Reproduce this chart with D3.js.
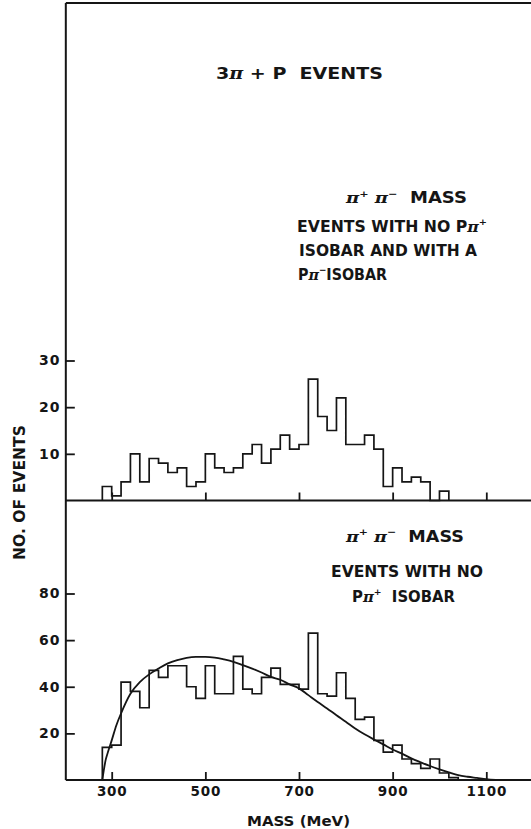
<!DOCTYPE html>
<html>
<head>
<meta charset="utf-8">
<script src="https://cdn.jsdelivr.net/npm/d3@7/dist/d3.min.js"></script>
<style>
  body { margin: 0; background: #fff; }
  svg { display: block; background: #fff; }
  text { font-family: "DejaVu Sans", "Liberation Sans", sans-serif; font-weight: bold; fill: #151515; white-space: pre; }
</style>
</head>
<body>
<svg id="chart" width="531" height="829"></svg>
<script>
// ---- data: pi+ pi- invariant mass histograms, 20 MeV bins starting at 280 MeV ----
const binStart = 280;
const binWidth = 20;

// upper panel: events with no P-pi+ isobar and with a P-pi- isobar
const upperCounts = [3, 1, 4, 10, 4, 9, 8, 6, 7, 3, 4, 10, 7, 6, 7, 10, 12, 8, 11, 14,
                     11, 12, 26, 18, 15, 22, 12, 12, 14, 11, 3, 7, 4, 5, 4, 0, 2];

// lower panel: events with no P-pi+ isobar
const lowerCounts = [14, 15, 42, 38, 31, 47, 44, 49, 49, 40, 35, 49, 37, 37, 53, 39, 37, 44, 48, 41,
                     41, 39, 63, 37, 36, 46, 35, 26, 27, 17, 12, 15, 9, 7, 5, 9, 3, 1];

// phase-space curve drawn over the lower histogram
const curveMass  = [280, 283, 287, 292, 300, 310, 320, 340, 360, 380, 400, 420, 440, 460, 480, 500,
                    520, 540, 560, 580, 600, 620, 640, 660, 680, 700, 720, 740, 760, 780, 800, 820,
                    840, 860, 880, 900, 920, 940, 960, 980, 1000, 1020, 1040, 1060, 1080, 1100, 1120];
const curveValue = [0, 4, 8.5, 12, 17, 23.5, 28.6, 37, 42, 45.3, 47.8, 50, 51.4, 52.4, 52.8, 52.8,
                    52.5, 51.7, 50.7, 49.3, 47.8, 46.1, 44.2, 43, 41, 39.3, 36.4, 33.5, 30.7, 27.8, 25, 22.1,
                    19.6, 17.4, 15.3, 13.1, 11.3, 9.3, 7.6, 6, 4.6, 3.3, 2.1, 1.4, 0.9, 0.4, 0];

// axis ticks
const massTicks  = [300, 500, 700, 900, 1100];
const upperTicks = [10, 20, 30];
const lowerTicks = [20, 40, 60, 80];
const massRange  = [202, 1200];

// ---- scales ----
const svg = d3.select("#chart");
const x    = d3.scaleLinear().domain([300, 1100]).range([111.7, 486.3]);
const yUp  = d3.scaleLinear().domain([0, 30]).range([500.5, 360.5]);
const yLow = d3.scaleLinear().domain([0, 80]).range([780, 593.5]);

const ink = "#151515";

// ---- frame: top rule, left axis, the two baselines ----
const g = svg.append("g").attr("fill", "none").attr("stroke", ink).attr("stroke-width", 2);
g.append("line").attr("x1", x(massRange[0])).attr("x2", x(massRange[1])).attr("y1", 3).attr("y2", 3);
g.append("line").attr("x1", x(massRange[0])).attr("x2", x(massRange[0])).attr("y1", 3).attr("y2", yLow(0));
g.append("line").attr("x1", x(massRange[0])).attr("x2", x(massRange[1])).attr("y1", yUp(0)).attr("y2", yUp(0));
g.append("line").attr("x1", x(massRange[0])).attr("x2", x(massRange[1])).attr("y1", yLow(0)).attr("y2", yLow(0));

// ---- axes (ticks point into the plot) ----
function styleAxis(sel, fontSize, spacing) {
  sel.select(".domain").remove();
  sel.selectAll(".tick line").attr("stroke", ink).attr("stroke-width", 1.8);
  sel.selectAll(".tick text")
    .attr("fill", ink)
    .style("font-size", fontSize + "px")
    .style("letter-spacing", spacing + "px")
    .style("font-family", "\"DejaVu Sans\", sans-serif")
    .style("font-weight", "bold");
}

svg.append("g").attr("transform", `translate(0,${yUp(0)})`)
  .call(d3.axisBottom(x).tickValues(massTicks).tickSize(-8).tickFormat(""))
  .call(s => styleAxis(s, 13, 0));

svg.append("g").attr("transform", `translate(0,${yLow(0)})`)
  .call(d3.axisBottom(x).tickValues(massTicks).tickSize(-8).tickPadding(6).tickFormat(d3.format("d")))
  .call(s => styleAxis(s, 13.5, 0.8));

svg.append("g").attr("transform", `translate(${x(massRange[0])},0)`)
  .call(d3.axisLeft(yUp).tickValues(upperTicks).tickSize(-9).tickPadding(5))
  .call(s => styleAxis(s, 14, 1.2));

svg.append("g").attr("transform", `translate(${x(massRange[0])},0)`)
  .call(d3.axisLeft(yLow).tickValues(lowerTicks).tickSize(-9).tickPadding(5))
  .call(s => styleAxis(s, 14, 1.2));

// ---- histograms as stepped outlines ----
function outline(counts) {
  const pts = [[binStart, 0]];
  counts.forEach((c, i) => {
    const m0 = binStart + i * binWidth;
    pts.push([m0, c], [m0 + binWidth, c]);
  });
  pts.push([binStart + counts.length * binWidth, 0]);
  return pts;
}

svg.append("path")
  .datum(outline(upperCounts))
  .attr("fill", "none").attr("stroke", ink).attr("stroke-width", 1.7)
  .attr("d", d3.line().x(d => x(d[0])).y(d => yUp(d[1])));

svg.append("path")
  .datum(outline(lowerCounts))
  .attr("fill", "none").attr("stroke", ink).attr("stroke-width", 1.7)
  .attr("d", d3.line().x(d => x(d[0])).y(d => yLow(d[1])));

// ---- fitted curve ----
svg.append("path")
  .datum(curveMass.map((m, i) => [m, curveValue[i]]))
  .attr("fill", "none").attr("stroke", ink).attr("stroke-width", 1.8)
  .attr("d", d3.line().x(d => x(d[0])).y(d => yLow(d[1])).curve(d3.curveMonotoneX));

// ---- lettering ----
// pieces: plain text, italic pi, raised signs
function label(xp, yp, len, size, parts, rotate) {
  const t = svg.append("text")
    .attr("x", rotate ? 0 : xp).attr("y", rotate ? 0 : yp)
    .attr("textLength", len).attr("lengthAdjust", "spacingAndGlyphs")
    .style("font-size", size + "px");
  if (rotate) t.attr("transform", `translate(${xp},${yp}) rotate(-90)`);
  parts.forEach(p => {
    const s = t.append("tspan").text(p.t);
    if (p.pi) s.style("font-style", "italic").style("font-family", "\"DejaVu Serif\", serif");
    if (p.sup) s.style("font-size", (size * 0.62) + "px").attr("dy", -size * 0.42);
    if (p.down) s.attr("dy", size * 0.42);
  });
  return t;
}

const PI = "\u03C0";
label(216, 79, 167, 16, [{t: "3"}, {t: PI, pi: true}, {t: " + P  EVENTS"}]);

label(346, 203, 121, 15, [{t: PI, pi: true}, {t: "+", sup: true}, {t: " ", down: true}, {t: PI, pi: true}, {t: "\u2212", sup: true}, {t: "  MASS", down: true}]);
label(297, 231.5, 190, 15, [{t: "EVENTS WITH NO P"}, {t: PI, pi: true}, {t: "+", sup: true}]);
label(299, 255.5, 178, 15, [{t: "ISOBAR AND WITH A"}]);
label(298, 279.5, 89, 15, [{t: "P"}, {t: PI, pi: true}, {t: "\u2212", sup: true}, {t: "ISOBAR", down: true}]);

label(346, 541.5, 118, 15, [{t: PI, pi: true}, {t: "+", sup: true}, {t: " ", down: true}, {t: PI, pi: true}, {t: "\u2212", sup: true}, {t: "  MASS", down: true}]);
label(331, 576.5, 152, 15, [{t: "EVENTS WITH NO"}]);
label(352, 601.5, 103, 15, [{t: "P"}, {t: PI, pi: true}, {t: "+", sup: true}, {t: "  ISOBAR", down: true}]);

label(247, 826, 103, 14, [{t: "MASS (MeV)"}]);
label(25, 560, 135, 15, [{t: "NO. OF EVENTS"}], true);
</script>
</body>
</html>
